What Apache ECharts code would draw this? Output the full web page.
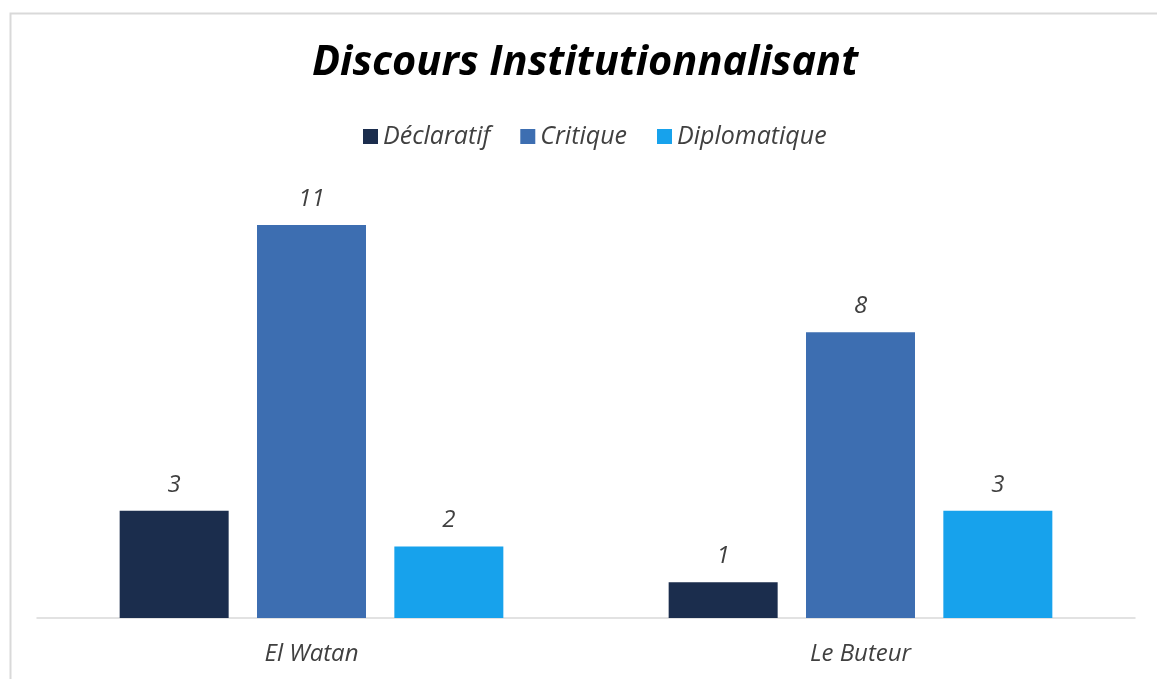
<!DOCTYPE html>
<html><head><meta charset="utf-8">
<script src="https://cdn.jsdelivr.net/npm/echarts@6/dist/echarts.min.js"></script>
<style>html,body{margin:0;padding:0;background:#fff}#c{width:1157px;height:679px}</style>
</head><body><div id="c"></div>
<script>
const categories = ['El Watan', 'Le Buteur'];
const seriesNames = ['Déclaratif', 'Critique', 'Diplomatique'];
const declaratif = [3, 1];
const critique = [11, 8];
const diplomatique = [2, 3];
const colors = ['#1b2d4d', '#3d6eb1', '#17a2ec'];
const FONT = 'Open Sans';
const chart = echarts.init(document.getElementById('c'));
const values = [declaratif, critique, diplomatique];
chart.setOption({
  animation: false,
  graphic: [{type: 'rect', left: 8, top: 11, shape: {x: 0.5, y: 0.5, width: 1200, height: 700}, style: {fill: 'none', stroke: '#d9d9d9', lineWidth: 2}, silent: true}],
  title: {text: 'Discours Institutionnalisant', left: 307, top: 38,
    textStyle: {fontFamily: FONT, fontSize: 41.5, fontWeight: 'bold', fontStyle: 'italic', color: '#000'}},
  legend: {top: 119, left: 358, itemWidth: 15, itemHeight: 15, itemGap: 30, icon: 'rect',
    textStyle: {fontFamily: FONT, fontSize: 25, fontStyle: 'italic', color: '#404040'}},
  grid: {left: 37, right: 22, top: 225, bottom: 61},
  xAxis: {type: 'category', data: categories,
    axisLine: {lineStyle: {color: '#d9d9d9', width: 1.5}}, axisTick: {show: false},
    axisLabel: {margin: 24, fontFamily: FONT, fontSize: 24, fontStyle: 'italic', color: '#404040'}},
  yAxis: {type: 'value', min: 0, max: 11, show: false, splitLine: {show: false}},
  series: seriesNames.map((n, i) => ({
    name: n, type: 'bar', data: values[i], barWidth: 109, barGap: '26%',
    itemStyle: {color: colors[i]},
    label: {show: true, position: 'top', distance: 14, fontFamily: FONT, fontSize: 24, fontStyle: 'italic', color: '#404040'}
  }))
});
</script></body></html>
